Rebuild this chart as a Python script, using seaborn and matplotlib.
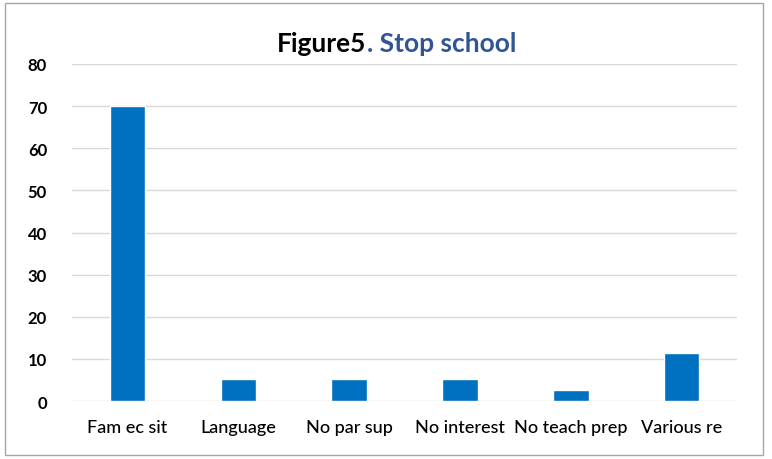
import matplotlib
matplotlib.use("Agg")
import matplotlib.pyplot as plt
import seaborn as sns
import pandas as pd
from matplotlib.patches import Rectangle

categories = ["Fam ec sit", "Language", "No par sup", "No interest", "No teach prep", "Various re"]
values = [70, 5.3, 5.3, 5.3, 2.6, 11.4]
yticks = [0, 10, 20, 30, 40, 50, 60, 70, 80]

sns.set_theme(style="white")
plt.rcParams['font.family'] = ['Lato', 'DejaVu Sans']

df = pd.DataFrame({"cat": categories, "val": values})

fig = plt.figure(figsize=(7.72, 4.6), dpi=100)
ax = fig.add_axes([0.0933, 0.126, 0.8614, 0.7327])
sns.barplot(data=df, x="cat", y="val", color="#0070C0", saturation=1, width=0.32, ax=ax, zorder=3)

ax.set_ylim(0, 80)
ax.set_yticks(yticks)
ax.set_yticklabels([str(t) for t in yticks], fontsize=12, fontweight="bold", color="#000000")
ax.set_xlabel("")
ax.set_ylabel("")
ax.tick_params(axis="x", labelsize=13, colors="#000000", length=0, pad=13)
ax.tick_params(axis="y", length=0, pad=18)
for lbl in ax.get_xticklabels():
    lbl.set_fontweight("medium")
ax.grid(axis="y", color="#D9D9D9", linewidth=1, zorder=0)
for s in ax.spines.values():
    s.set_visible(False)

# figure border
fig.patches.append(Rectangle((0.006, 0.008), 0.982, 0.984, transform=fig.transFigure,
                             fill=False, edgecolor="#A6A6A6", linewidth=1))

t1 = fig.text(0.358, 0.905, "Figure5", fontsize=19, fontweight="bold", color="#000000", ha="left", va="center")
fig.canvas.draw()
bb = t1.get_window_extent()
x2 = bb.x1 / fig.bbox.width
fig.text(x2 + 0.001, 0.905, ". Stop school", fontsize=19, fontweight="bold", color="#2F5597", ha="left", va="center")

fig.savefig("out.png", dpi=100)
